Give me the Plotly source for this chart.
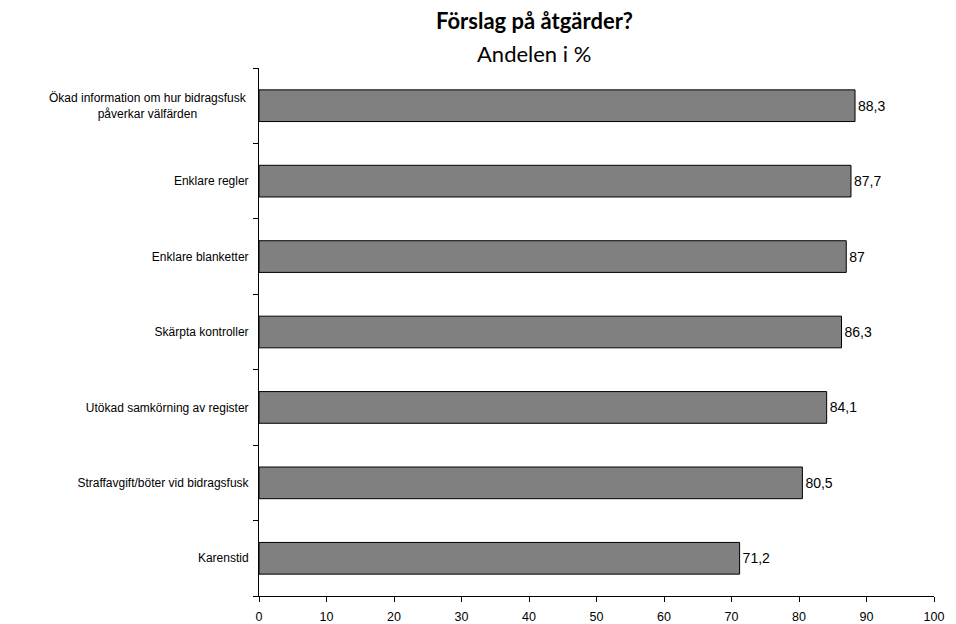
import plotly.graph_objects as go

categories = [
    "Ökad information om hur bidragsfusk<br>påverkar välfärden",
    "Enklare regler",
    "Enklare blanketter",
    "Skärpta kontroller",
    "Utökad samkörning av register",
    "Straffavgift/böter vid bidragsfusk",
    "Karenstid",
]
values = [88.3, 87.7, 87.0, 86.3, 84.1, 80.5, 71.2]
x_ticks = [0, 10, 20, 30, 40, 50, 60, 70, 80, 90, 100]
title_text = "Förslag på åtgärder?"
subtitle_text = "Andelen i %"

labels = [("%g" % v).replace(".", ",") for v in values]
multi = [c for c in categories if "<br>" in c]
tick_text = ["" if "<br>" in c else c for c in categories]

W, H = 956, 624
L, R, T, B = 259, 22, 68, 28
PW, PH = W - L - R, H - T - B

fig = go.Figure(go.Bar(
    x=values, y=categories, orientation="h",
    marker=dict(color="#808080", line=dict(color="#000000", width=1)),
    text=labels, textposition="outside", cliponaxis=False,
    textfont=dict(family="Liberation Sans, Arial", size=14, color="#000"),
    width=0.42,
))

annotations = [
    dict(text="<b>" + title_text + "</b>", x=(534 - L) / PW, y=1 + (T - 20) / PH,
         xref="paper", yref="paper", xanchor="center", yanchor="middle",
         showarrow=False, font=dict(family="Lato", size=22, color="#000")),
    dict(text=subtitle_text, x=(534 - L) / PW, y=1 + (T - 53) / PH,
         xref="paper", yref="paper", xanchor="center", yanchor="middle",
         showarrow=False, font=dict(family="Lato", size=22, color="#000")),
]
for c in multi:
    annotations.append(dict(
        text=c, x=0, y=c, xref="paper", yref="y", xanchor="right", yanchor="middle",
        xshift=-10, align="center", showarrow=False,
        font=dict(family="Liberation Sans, Arial", size=12, color="#000")))

fig.update_layout(
    width=W, height=H,
    margin=dict(l=L, r=R, t=T, b=B, autoexpand=False),
    plot_bgcolor="white", paper_bgcolor="white",
    showlegend=False,
    font=dict(family="Liberation Sans, Arial", size=12, color="#000"),
    xaxis=dict(
        range=[0, 100], tickvals=x_ticks, showgrid=False, zeroline=False,
        showline=True, linecolor="#000", linewidth=1,
        ticks="outside", ticklen=5, tickcolor="#000",
        ticklabelstandoff=4, automargin=False,
        tickfont=dict(size=12.5),
    ),
    yaxis=dict(
        type="category", categoryorder="array", categoryarray=categories,
        tickvals=categories, ticktext=tick_text,
        autorange="reversed", tickson="boundaries",
        showline=True, linecolor="#000", linewidth=1,
        ticks="outside", ticklen=5, tickcolor="#000",
        ticklabelstandoff=7, automargin=False,
        showgrid=False, tickfont=dict(size=12),
    ),
    annotations=annotations,
)

fig.write_html("out.html", config={"displayModeBar": False},
               post_script="document.body.style.margin='0px';")
